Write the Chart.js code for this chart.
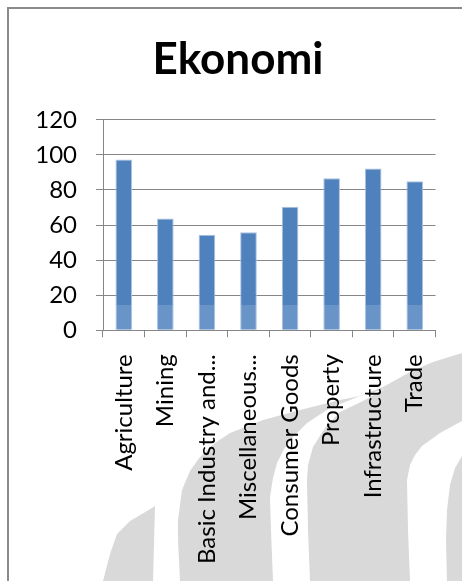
<!DOCTYPE html>
<html>
<head>
<meta charset="utf-8">
<script src="https://cdn.jsdelivr.net/npm/chart.js@4"></script>
<style>
  html, body { margin: 0; padding: 0; background: #fff; }
  canvas { display: block; }
</style>
</head>
<body>
<canvas id="chart" width="462" height="581"></canvas>
<script>
// sector index values
const sectors = ['Agriculture', 'Mining', 'Basic Industry and...', 'Miscellaneous...',
  'Consumer Goods', 'Property', 'Infrastructure', 'Trade'];
const values = [97.4, 63.7, 54.4, 55.9, 70.4, 86.7, 92.3, 84.9];
const yTicks = [0, 20, 40, 60, 80, 100, 120];

const barDark = '#4f81bd';
const barLight = '#6994c8';
const paleBandTop = 14.3; // bottom strip of the bars is lighter

// grey arcs in the background + the panel frame
const backdrop = {
  id: 'backdrop',
  beforeDraw(chart) {
    const c = chart.ctx;
    c.save();
    c.fillStyle = '#fff';
    c.fillRect(0, 0, chart.width, chart.height);

    function poly(pts, color) {
      c.beginPath();
      c.moveTo(pts[0][0], pts[0][1]);
      for (let i = 1; i < pts.length; i++) c.lineTo(pts[i][0], pts[i][1]);
      c.closePath();
      c.fillStyle = color;
      c.fill();
    }
    const grey = '#d9d9d9';
    poly([[103,581],[110,554],[117,534],[130,521],[147,511],[155,506],[153,581]], grey);
    poly([[180,581],[178,540],[178,520],[182,490],[190,471],[200,457],[215,443],[230,433],
          [263,420],[300,410],[340,400],[360,396],[383,387],[410,372],[433,362],[462,353],[462,581]], grey);
    // white crescents cut through the big arc
    poly([[273,581],[271,530],[270,497],[273,478],[277,463],[284,449],[293,437],[307,423],
          [330,408],[360,396],[385,389],[363,401],[340,412],[325,428],[313,447],[308,465],[307,480],[308,530],[310,581]], '#fff');
    poly([[410,581],[408,530],[407,480],[410,465],[415,455],[422,446],[440,433],[462,421],
          [462,456],[455,468],[450,485],[447,510],[446,540],[447,581]], '#fff');

    c.fillStyle = '#8a8a8a';
    c.fillRect(7, 7, chart.width - 7, 2);
    c.fillRect(7, 7, 2, chart.height - 7);
    c.restore();
  }
};

new Chart(document.getElementById('chart'), {
  type: 'bar',
  data: {
    labels: sectors,
    datasets: [{
      label: 'Ekonomi',
      data: values,
      backgroundColor: function(ctx) {
        const chart = ctx.chart;
        const area = chart.chartArea;
        if (!area) return barDark;
        const y = chart.scales.y;
        const top = area.top, bottom = area.bottom;
        const t = (y.getPixelForValue(paleBandTop) - top) / (bottom - top);
        const g = chart.ctx.createLinearGradient(0, top, 0, bottom);
        g.addColorStop(0, barDark);
        g.addColorStop(t, barDark);
        g.addColorStop(t, barLight);
        g.addColorStop(1, barLight);
        return g;
      },
      borderColor: '#a9c2e0',
      borderWidth: 1,
      borderSkipped: 'bottom',
      categoryPercentage: 1,
      barPercentage: 0.4
    }]
  },
  options: {
    responsive: false,
    animation: false,
    layout: { padding: { left: 37, right: 23, top: 0, bottom: 0 } },
    plugins: {
      legend: { display: false },
      tooltip: { enabled: false },
      title: {
        display: true,
        text: 'Ekonomi',
        color: '#000',
        font: { family: 'Lato', size: 44, weight: 'bold', lineHeight: 1.2 },
        padding: { top: 33, bottom: 34 }
      }
    },
    scales: {
      x: {
        grid: { display: true, drawOnChartArea: false, drawTicks: true, tickLength: 7, color: '#868686', offset: true },
        border: { color: '#868686', width: 1 },
        ticks: {
          color: '#000',
          font: { family: 'Lato', size: 24 },
          minRotation: 90, maxRotation: 90,
          padding: 17,
          autoSkip: false
        }
      },
      y: {
        min: 0, max: 120,
        afterBuildTicks(axis) { axis.ticks = yTicks.map(v => ({ value: v })); },
        afterFit(axis) { axis.width = 66; },
        grid: { color: '#868686', lineWidth: 1, tickLength: 7 },
        border: { color: '#868686', width: 1 },
        ticks: {
          color: '#000',
          font: { family: 'Lato', size: 24 },
          padding: 19
        }
      }
    }
  },
  plugins: [backdrop]
});
</script>
</body>
</html>
